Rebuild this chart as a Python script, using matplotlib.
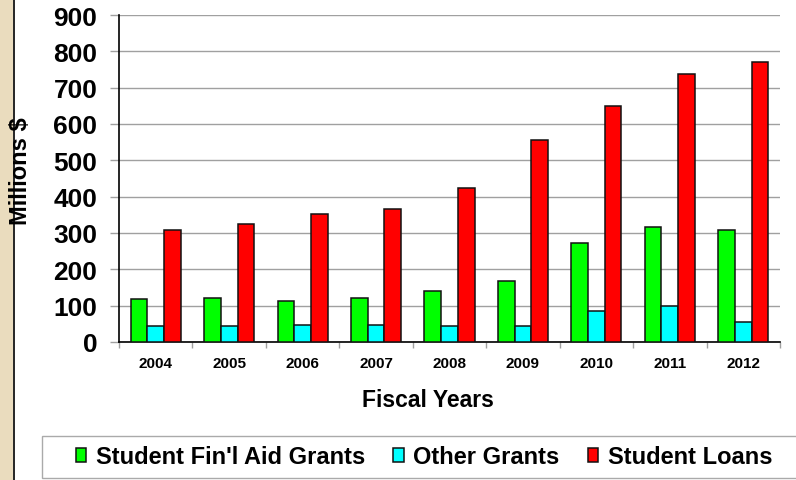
import numpy as np
import matplotlib.pyplot as plt
from matplotlib.patches import Rectangle
from matplotlib.lines import Line2D

# data (millions $)
years = ["2004", "2005", "2006", "2007", "2008", "2009", "2010", "2011", "2012"]
finAidGrants = [117, 120, 113, 121, 141, 168, 272, 317, 309]
otherGrants = [45, 43, 47, 47, 45, 45, 86, 99, 56]
studentLoans = [307, 325, 352, 366, 425, 557, 649, 738, 771]
seriesNames = ["Student Fin'l Aid Grants", "Other Grants", "Student Loans"]
seriesColors = ["#00FF00", "#00FFFF", "#FF0000"]

plt.rcParams["font.family"] = "Liberation Sans"
plt.rcParams["font.weight"] = "bold"

W, H = 796, 481
fig = plt.figure(figsize=(W / 100, H / 100), dpi=100)
fig.patch.set_facecolor("white")

# beige strip on the left + dark line
fig.patches.append(Rectangle((0, 0), 13 / W, 1, transform=fig.transFigure,
                             facecolor="#EADCBE", edgecolor="none", zorder=0))
fig.lines.append(Line2D([13.5 / W, 13.5 / W], [0, 1], transform=fig.transFigure,
                        color="black", linewidth=1.2, zorder=1))

ax = fig.add_axes([119 / W, 1 - 343 / H, (780 - 119) / W, (343 - 16) / H])

x = np.arange(len(years))
barW = 0.227
allSeries = [finAidGrants, otherGrants, studentLoans]
for k, (vals, name, col) in enumerate(zip(allSeries, seriesNames, seriesColors)):
    ax.bar(x + (k - 1) * barW, vals, width=barW, color=col, edgecolor="#111111",
           linewidth=1.1, label=name, zorder=3)

ax.set_xlim(-0.5, len(years) - 0.5)
ax.set_ylim(0, 900)
ax.set_yticks(np.arange(0, 901, 100))
ax.yaxis.grid(True, color="#A0A0A0", linewidth=1.0, zorder=0)
ax.set_axisbelow(True)

ax.tick_params(axis="y", length=6.5, width=1.0, color="#A0A0A0",
               labelsize=19, pad=9)
ax.set_xticks(x)
ax.set_xticklabels(years)
ax.set_xticks(np.arange(-0.5, len(years)), minor=True)
ax.tick_params(axis="x", which="major", length=0, labelsize=11, pad=10)
ax.tick_params(axis="x", which="minor", length=4.5, width=1.0, color="#A0A0A0")
for lbl in ax.get_yticklabels() + ax.get_xticklabels():
    lbl.set_fontweight("bold")

ax.spines["top"].set_visible(False)
ax.spines["right"].set_visible(False)
ax.spines["left"].set_linewidth(1.2)
ax.spines["bottom"].set_linewidth(1.2)

fig.text(428 / W, 1 - 401 / H, "Fiscal Years", ha="center", va="center",
         fontsize=16.5, fontweight="bold")
fig.text(21 / W, 1 - 171 / H, "Millions $", ha="center", va="center",
         rotation=90, fontsize=17, fontweight="bold")

# legend box
fig.patches.append(Rectangle((42 / W, 1 - 479 / H), (W - 42 + 10) / W, 42 / H,
                             transform=fig.transFigure, facecolor="white",
                             edgecolor="#AAAAAA", linewidth=1.0, zorder=1))
handles, labels = ax.get_legend_handles_labels()
fig.legend(handles, labels, loc="center", bbox_to_anchor=(424 / W, 1 - 458 / H),
           ncol=3, frameon=False, prop={"weight": "bold", "size": 17},
           handlelength=0.45, handleheight=0.5, handletextpad=0.4,
           columnspacing=1.2, borderpad=0)

fig.savefig("out.png", dpi=100)
